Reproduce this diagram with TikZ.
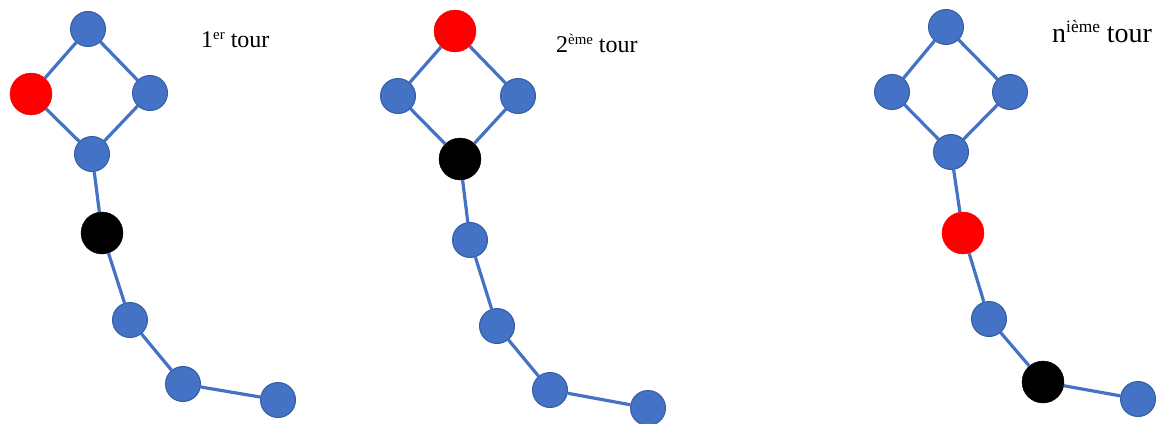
\documentclass[tikz,border=0pt]{standalone}
\usepackage{fontspec}
\setmainfont{Liberation Serif}
\usepackage{xcolor}
\usepackage{tikz}
\usetikzlibrary{positioning}
\definecolor{nodeblue}{RGB}{68,114,196}
\definecolor{rimblue}{RGB}{52,92,166}
\newcommand{\tourexp}[1]{\raisebox{0.33em}{\scalebox{0.62}{#1}}}
\tikzstyle{vertex}=[circle,fill=nodeblue,draw=rimblue,line width=1pt,minimum size=35pt,inner sep=0pt]
\tikzstyle{redvertex}=[circle,fill=red,draw=red,minimum size=42pt,inner sep=0pt]
\tikzstyle{blackvertex}=[circle,fill=black,draw=black,minimum size=42pt,inner sep=0pt]
\tikzstyle{undirectededge} = [draw,line width=3.2pt,nodeblue]
\tikzstyle{tourlabel} = [anchor=base west,inner sep=0pt,font=\fontsize{24}{28}\selectfont]

\begin{document}
\begin{tikzpicture}[x=1pt,y=-1pt]
  \useasboundingbox (0,0) rectangle (1166,423);

  % 1er tour
   \foreach \x/\y/\name/\sty in {88/29/A1/vertex, 31/94/A2/redvertex, 150/93/A3/vertex, 92/154/A4/vertex,
        102/233/A5/blackvertex, 130/320/A6/vertex, 183/384/A7/vertex, 278/400/A8/vertex}
          \node[\sty] (\name) at (\x, \y) {};

  % 2eme tour
   \foreach \x/\y/\name/\sty in {455/31/B1/redvertex, 398/96/B2/vertex, 518/96/B3/vertex, 460/159/B4/blackvertex,
        470/240/B5/vertex, 497/326/B6/vertex, 550/390/B7/vertex, 648/408/B8/vertex}
          \node[\sty] (\name) at (\x, \y) {};

  % nieme tour
   \foreach \x/\y/\name/\sty in {946/27/C1/vertex, 892/92/C2/vertex, 1010/92/C3/vertex, 951/152/C4/vertex,
        963/233/C5/redvertex, 989/319/C6/vertex, 1043/382/C7/blackvertex, 1138/399/C8/vertex}
          \node[\sty] (\name) at (\x, \y) {};

  \foreach \g in {A,B,C}
    \foreach \source/ \dest in {1/2, 1/3, 2/4, 3/4, 4/5, 5/6, 6/7, 7/8}
         \path[undirectededge] (\g\source) -- (\g\dest);

  \node[tourlabel] (lab1) at (201,47) {1\tourexp{er} tour};
  \node[tourlabel] (lab2) at (556,52) {2\tourexp{ème} tour};
  \node[tourlabel,font=\fontsize{28}{32}\selectfont] (lab3) at (1052,42) {n\tourexp{ième} tour};

   \end{tikzpicture}
\end{document}
